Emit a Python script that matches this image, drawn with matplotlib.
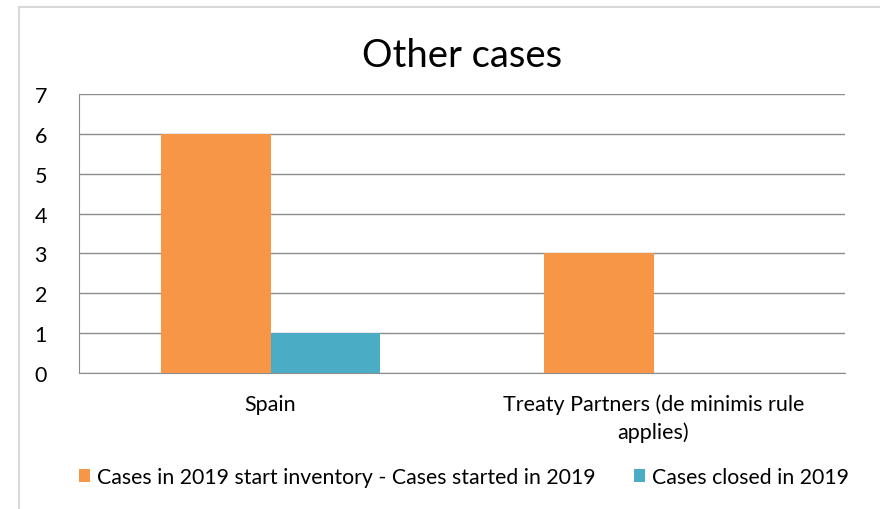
import matplotlib.pyplot as plt
import numpy as np

categories = ['Spain', 'Treaty Partners (de minimis rule\napplies)']
series_names = ['Cases in 2019 start inventory - Cases started in 2019', 'Cases closed in 2019']
started = [6, 3]
closed = [1, 0]
colors = ['#F79646', '#4BACC6']

plt.rcParams['font.family'] = ['Lato', 'DejaVu Sans']

fig = plt.figure(figsize=(8.8, 5.1), dpi=100)
# chart border (left/top only visible in the reference)
fig.add_artist(plt.Line2D([19/880, 19/880], [0, 1 - 8/510], color='#d9d9d9', lw=1.5))
fig.add_artist(plt.Line2D([19/880, 1], [1 - 8/510, 1 - 8/510], color='#d9d9d9', lw=1.5))

ax = fig.add_axes([79/880, 1 - 374/510, 766/880, 279/510])
x = np.arange(len(categories))
w = 0.287
ax.bar(x - w/2, started, w, color=colors[0], label=series_names[0], zorder=3)
ax.bar(x + w/2, closed, w, color=colors[1], label=series_names[1], zorder=3)

ax.set_xlim(-0.5, 1.5)
ax.set_ylim(0, 7)
ax.set_yticks(range(8))
ax.yaxis.grid(True, color='#8c8c8c', lw=1)
ax.set_axisbelow(True)
for s in ['top', 'right']:
    ax.spines[s].set_visible(False)
for s in ['left', 'bottom']:
    ax.spines[s].set_color('#8c8c8c')
ax.tick_params(axis='y', length=0, pad=23, labelsize=15.5)
ax.tick_params(axis='x', length=0, pad=15, labelsize=15.5)
ax.set_xticks(x)
ax.set_xticklabels(categories, linespacing=1.45)

ax.set_title('Other cases', fontsize=27.5, pad=20)

fig.legend(loc='lower center', bbox_to_anchor=(0.527, 0.005), ncol=2, frameon=False,
           fontsize=15.3, handlelength=0.55, handleheight=0.55, handletextpad=0.3,
           columnspacing=1.8)

fig.savefig('out.png', dpi=100)
